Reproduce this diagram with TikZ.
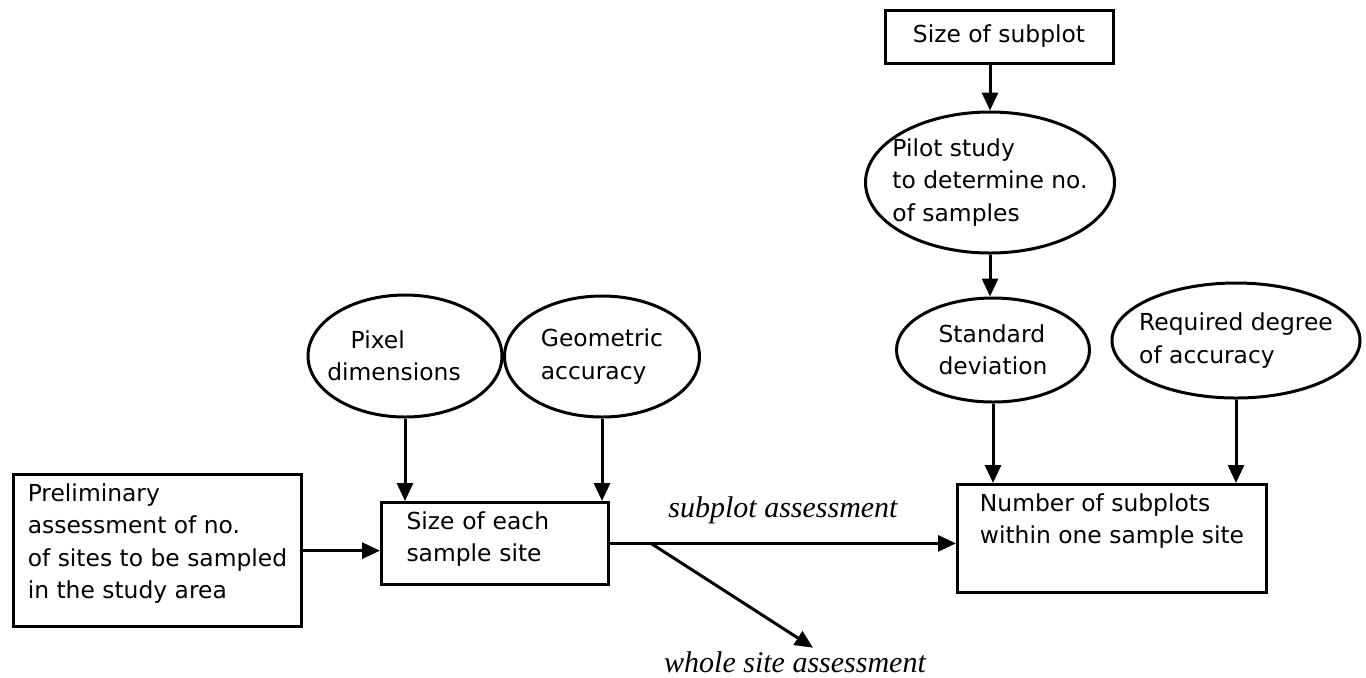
\documentclass[tikz,border=0pt]{standalone}
\usepackage{fontspec}
\setmainfont{DejaVu Sans}
\newfontfamily\assessfont{Liberation Serif}
\usetikzlibrary{shapes.geometric,arrows.meta}
\tikzstyle{block} = [draw, rectangle, align=left, inner ysep=4.5pt,
    font={\fontsize{11.7}{16.25}\selectfont}]
\tikzstyle{oval} = [draw, ellipse, align=left, inner sep=-10pt,
    font={\fontsize{11.7}{16.25}\selectfont}]
\tikzstyle{lbl} = [inner sep=1pt, font={\assessfont\itshape\fontsize{15}{18}\selectfont}]
\begin{document}
\begin{tikzpicture}[x=0.5pt, y=-0.5pt, line width=1.5pt,
    >={Triangle[length=9pt,width=8pt]}]
    \useasboundingbox (0,0) rectangle (1366,677);
    % We start by placing the blocks of the bottom row
    \node [block, anchor=north west, minimum width=144pt, text depth=9.5pt] (prelim)
        at (12,473) {Preliminary\\assessment of no.\\of sites to be sampled\\in the study area};
    \node [block, anchor=north west, inner xsep=12.5pt, text width=88.5pt, text depth=23pt] (site)
        at (380,501) {Size of each\\sample site};
    \node [block, anchor=north west, minimum width=154.5pt, text depth=20pt] (number)
        at (956,483) {Number of subplots\\within one sample site};
    % Then the inputs above them
    \node [block, align=center, minimum width=114pt, minimum height=26.5pt, inner ysep=0pt] (subplot)
        at (999,36.5) {Size of subplot};
    \node [oval, minimum width=124.5pt, minimum height=70.5pt] (pilot)
        at (990,182.5) {Pilot study\\to determine no.\\of samples};
    \node [oval, minimum width=96.5pt, minimum height=52pt] (stddev)
        at (993,350) {Standard\\deviation};
    \node [oval, minimum width=124pt, minimum height=57.5pt] (required)
        at (1236,340.5) {Required degree\\of accuracy};
    \node [oval, minimum width=97pt, minimum height=61pt] (pixel)
        at (405,356) {\hspace*{1em}Pixel\\dimensions\hspace{11pt}\mbox{}};
    \node [oval, minimum width=97.5pt, minimum height=60.5pt] (geometric)
        at (602,356.5) {Geometric\\accuracy};

    % Once the nodes are placed, connecting them is easy.
    \draw [->] (pilot.north |- subplot.south) -- (pilot.north);
    \draw [->] (pilot.south) -- (pilot.south |- stddev.north);
    \draw [->] (stddev.south) -- (stddev.south |- number.north);
    \draw [->] (required.south) -- (required.south |- number.north);
    \draw [->] (pixel.south) -- (pixel.south |- site.north);
    \draw [->] (geometric.south) -- (geometric.south |- site.north);
    \draw [->] (prelim.east) -- (prelim.east -| site.west);
    \draw [->] (site.east) -- node [lbl, above=8pt] (sublbl) {subplot assessment}
        (site.east -| number.west);
    % The second way out branches off the same line
    \coordinate (split) at ([xshift=20.5pt]site.east);
    \node [lbl, anchor=base] (wholelbl) at (795,672) {whole site assessment};
    \draw [->] (split) -- ([xshift=9pt]wholelbl.north);
\end{tikzpicture}
\end{document}
